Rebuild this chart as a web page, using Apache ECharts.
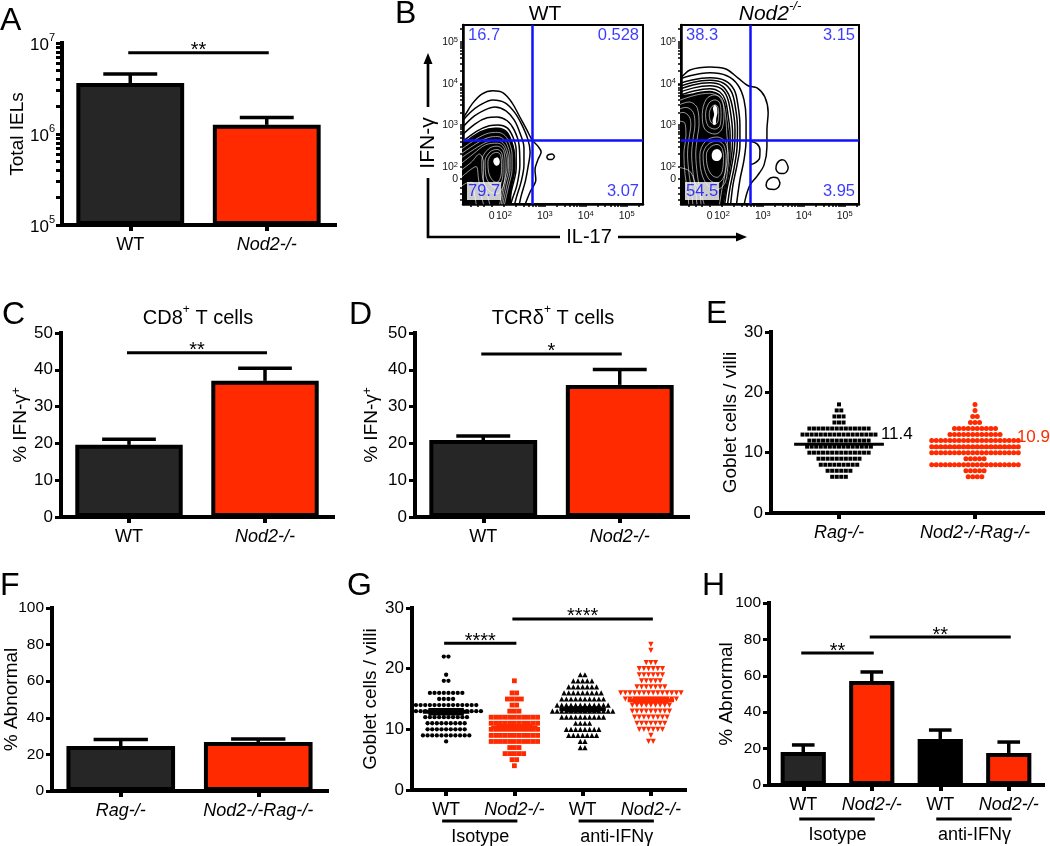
<!DOCTYPE html>
<html>
<head>
<meta charset="utf-8">
<script src="https://cdn.jsdelivr.net/npm/echarts@6.0.0/dist/echarts.min.js"></script>
<style>html,body{margin:0;padding:0;background:#fff;}#chart{width:1050px;height:846px;}</style>
</head>
<body>
<div id="chart"></div>
<script>
// ================= DATA =================
const aCats = ['WT', 'Nod2-/-'];
const aMeans = [3.63e6, 1.26e6];
const aErrTop = [4.57e6, 1.52e6];
const aSig = [[0, 1, 7.8e6, '**']];
const aLogTicks = [1e5, 1e6, 1e7];

const bGateX = 2.70;
const bGateY = 2.62;
const bWtQuad = ['16.7', '0.528', '79.7', '3.07'];
const bNodQuad = ['38.3', '3.15', '54.5', '3.95'];
const bTickLabels = [1.7, 2, 3, 4, 5];   // "0", 10^2 ... 10^5 (display units)
// contour levels (display units), outer levels drawn as lines
const bWtContours = [
  [[0.8,3.0],[1.0,3.17],[1.22,3.5],[1.46,3.74],[1.73,3.82],[1.98,3.77],[2.2,3.53],[2.39,3.19],[2.56,2.88],[2.69,2.64],[2.83,2.49],[2.91,2.35],[2.83,2.16],[2.76,1.92],[2.78,1.68],[2.64,1.39],[2.52,1.1],[2.39,0.84]],
  [[0.8,2.88],[1.17,3.29],[1.42,3.48],[1.73,3.6],[2.03,3.53],[2.27,3.29],[2.44,3.0],[2.59,2.64],[2.64,2.35],[2.59,1.99],[2.52,1.63],[2.42,1.29],[2.34,0.91]],
  [[0.8,2.73],[1.22,3.17],[1.54,3.36],[1.78,3.43],[2.05,3.34],[2.25,3.12],[2.39,2.81],[2.49,2.45],[2.49,2.04],[2.42,1.63],[2.3,1.24],[2.22,0.91]],
  [[0.8,2.59],[1.29,3.02],[1.59,3.17],[1.83,3.19],[2.08,3.1],[2.25,2.88],[2.37,2.52],[2.39,2.04],[2.32,1.56],[2.2,1.2],[2.12,0.91]],
  [[0.8,2.45],[1.34,2.85],[1.64,2.98],[1.86,3.0],[2.08,2.93],[2.22,2.71],[2.3,2.4],[2.3,1.97],[2.2,1.48],[2.05,0.91]],
  [[0.8,2.38],[1.3,2.76],[1.62,2.9],[1.86,2.92],[2.06,2.84],[2.18,2.62],[2.25,2.33],[2.25,1.96],[2.16,1.5],[2.0,0.91]],
  [[3.24,2.24],[3.18,2.3],[3.1,2.29],[3.05,2.23],[3.1,2.17],[3.18,2.17],[3.24,2.24]]
];
const bWtDense = [[0.8,2.42],[1.2,2.68],[1.5,2.86],[1.8,2.93],[2.05,2.84],[2.19,2.63],[2.27,2.3],[2.28,1.92],[2.2,1.5],[2.08,0.9],[0.8,0.9]];
const bWtInner = [
  [[0.8,2.3],[1.32,2.66],[1.62,2.8],[1.85,2.82],[2.03,2.74],[2.14,2.54],[2.2,2.28],[2.2,1.94],[2.12,1.55],[1.97,0.91]],
  [[0.8,2.2],[1.34,2.56],[1.63,2.7],[1.85,2.72],[2.0,2.65],[2.1,2.47],[2.15,2.24],[2.15,1.93],[2.08,1.58],[1.93,0.91]],
  [[0.8,2.1],[1.36,2.47],[1.64,2.61],[1.84,2.63],[1.98,2.56],[2.07,2.4],[2.11,2.2],[2.11,1.93],[2.04,1.62],[1.9,0.91]],
  [[0.8,1.95],[1.25,2.3],[1.55,2.52],[1.84,2.56],[1.97,2.5],[2.04,2.35],[2.08,2.15],[2.07,1.9],[2.0,1.6],[1.86,0.91]],
  [[0.8,1.8],[1.2,2.1],[1.4,2.3],[1.5,2.1],[1.5,1.7],[1.6,1.3],[1.7,0.91]],
  [[0.8,1.6],[1.15,1.9],[1.32,2.0],[1.38,1.7],[1.45,1.3],[1.55,0.91]],
  [[0.8,1.4],[1.08,1.6],[1.22,1.62],[1.28,1.35],[1.35,0.91]],
  [[2.03,2.12],[1.98,2.4],[1.83,2.49],[1.62,2.42],[1.46,2.14],[1.48,1.72],[1.63,1.42],[1.83,1.35],[1.98,1.52],[2.03,1.85],[2.03,2.12]],
  [[1.98,2.12],[1.94,2.34],[1.83,2.41],[1.66,2.35],[1.54,2.13],[1.56,1.78],[1.69,1.54],[1.83,1.49],[1.94,1.63],[1.98,1.88],[1.98,2.12]],
  [[1.94,2.12],[1.91,2.29],[1.83,2.34],[1.7,2.29],[1.61,2.12],[1.63,1.85],[1.73,1.66],[1.83,1.62],[1.91,1.72],[1.94,1.92],[1.94,2.12]]
];
const bWtCore = [[[1.9,2.12],[1.87,2.2],[1.82,2.22],[1.76,2.19],[1.74,2.12],[1.77,2.05],[1.82,2.02],[1.88,2.05]]];

const bNodContours = [
  [[0.78,4.08],[1.0,4.15],[1.22,4.32],[1.71,4.39],[2.08,4.35],[2.39,4.13],[2.64,3.94],[2.86,3.89],[3.05,3.67],[3.13,3.29],[3.1,2.88],[3.1,2.47],[3.03,2.04],[2.86,1.77],[2.69,1.56],[2.59,1.29],[2.52,0.96]],
  [[0.78,4.03],[1.22,4.18],[1.71,4.25],[2.12,4.18],[2.39,3.96],[2.54,3.6],[2.59,3.12],[2.59,2.64],[2.54,2.16],[2.44,1.68],[2.34,0.96]],
  [[0.78,3.94],[1.27,4.08],[1.71,4.13],[2.08,4.06],[2.3,3.84],[2.39,3.48],[2.44,3.0],[2.44,2.52],[2.37,2.04],[2.27,1.56],[2.2,0.96]],
  [[0.78,3.86],[1.28,4.02],[1.71,4.07],[2.04,4.0],[2.24,3.78],[2.33,3.42],[2.38,2.94],[2.37,2.46],[2.3,1.98],[2.2,1.5],[2.12,0.96]],
  [[0.78,3.79],[1.29,3.96],[1.71,4.01],[2.0,3.94],[2.17,3.72],[2.27,3.36],[2.32,2.88],[2.3,2.4],[2.22,1.92],[2.12,1.44],[2.05,0.96]],
  [[0.78,3.72],[1.31,3.89],[1.71,3.94],[1.98,3.87],[2.13,3.66],[2.21,3.3],[2.26,2.82],[2.25,2.4],[2.18,1.91],[2.09,1.42],[2.01,0.96]],
  [[0.78,3.65],[1.34,3.82],[1.71,3.87],[1.95,3.79],[2.08,3.6],[2.15,3.24],[2.2,2.76],[2.2,2.4],[2.15,1.9],[2.06,1.4],[1.97,0.96]],
  [[2.7,2.6],[2.85,2.55],[2.93,2.4],[2.92,2.2],[2.8,2.08],[2.7,2.05]],
  [[3.62,1.99],[3.55,2.13],[3.47,2.16],[3.35,2.08],[3.32,1.95],[3.4,1.84],[3.52,1.83],[3.6,1.9],[3.62,1.99]],
  [[3.42,1.6],[3.36,1.72],[3.25,1.74],[3.12,1.67],[3.08,1.55],[3.15,1.46],[3.28,1.45],[3.38,1.5],[3.42,1.6]]
];
const bNodDense = [[0.78,3.58],[1.3,3.76],[1.7,3.82],[1.94,3.74],[2.08,3.52],[2.14,3.12],[2.18,2.76],[2.19,2.4],[2.14,1.9],[2.05,1.4],[1.96,0.9],[0.78,0.9]];
const bNodInner = [
  [[0.78,3.52],[1.3,3.7],[1.7,3.76],[1.92,3.68],[2.04,3.48],[2.1,3.1],[2.12,2.78],[2.14,2.5],[2.1,1.95],[2.0,1.45],[1.92,0.96]],
  [[0.78,3.4],[1.2,3.55],[1.4,3.4],[1.44,3.0],[1.4,2.7],[1.36,2.3],[1.4,1.8],[1.46,1.4],[1.5,0.96]],
  [[0.78,3.3],[1.12,3.42],[1.3,3.3],[1.34,3.0],[1.3,2.7],[1.26,2.3],[1.3,1.8],[1.36,1.4],[1.4,0.96]],
  [[0.78,3.2],[1.05,3.3],[1.2,3.2],[1.24,3.0],[1.2,2.7],[1.16,2.3],[1.2,1.8],[1.26,1.4],[1.3,0.96]],
  [[0.78,3.1],[1.08,3.06],[1.12,2.75],[1.07,2.3],[1.1,1.8],[1.16,1.4],[1.2,0.96]],
  [[2.05,3.25],[2.0,3.62],[1.83,3.72],[1.62,3.62],[1.52,3.25],[1.58,2.9],[1.83,2.78],[2.0,2.9],[2.05,3.25]],
  [[1.98,3.25],[1.95,3.52],[1.83,3.6],[1.68,3.52],[1.6,3.25],[1.66,2.98],[1.83,2.9],[1.95,2.98],[1.98,3.25]],
  [[1.92,3.25],[1.9,3.43],[1.83,3.48],[1.74,3.42],[1.69,3.25],[1.73,3.07],[1.83,3.01],[1.9,3.08],[1.92,3.25]],
  [[2.16,2.28],[2.08,2.6],[1.88,2.71],[1.6,2.61],[1.46,2.28],[1.5,1.85],[1.65,1.55],[1.88,1.45],[2.07,1.6],[2.14,1.95],[2.16,2.28]],
  [[2.1,2.28],[2.04,2.52],[1.88,2.61],[1.66,2.53],[1.54,2.28],[1.58,1.92],[1.7,1.68],[1.88,1.6],[2.03,1.72],[2.09,1.98],[2.1,2.28]],
  [[2.04,2.28],[1.99,2.46],[1.88,2.53],[1.71,2.46],[1.62,2.28],[1.65,1.99],[1.75,1.8],[1.88,1.74],[1.99,1.84],[2.03,2.03],[2.04,2.28]],
  [[0.78,2.0],[1.2,1.9],[1.35,1.6],[1.5,1.3],[1.6,0.96]]
];
const bNodCore = [
  [[2.0,2.28],[1.96,2.38],[1.88,2.42],[1.79,2.38],[1.75,2.28],[1.78,2.17],[1.88,2.13],[1.96,2.17]],
  [[1.89,3.3],[1.87,3.44],[1.82,3.48],[1.78,3.4],[1.81,3.25],[1.77,3.1],[1.8,3.0],[1.85,3.02],[1.86,3.15]]
];

const cCats = ['WT', 'Nod2-/-'];
const cMeans = [19.6, 37.0];
const cErrTop = [21.1, 40.4];
const cSig = [[0, 1, 44.6, '**']];

const dCats = ['WT', 'Nod2-/-'];
const dMeans = [20.9, 35.9];
const dErrTop = [22.0, 40.1];
const dSig = [[0, 1, 44.3, '*']];

const eCats = ['Rag-/-', 'Nod2-/-Rag-/-'];
// [goblet cells per villus, number of villi]
const eRagCounts = [[18,1],[17,2],[16,3],[15,3],[14,14],[13,17],[12,14],[11,15],[10,14],[9,10],[8,9],[7,6],[6,4]];
const eNodRagCounts = [[18,1],[17,1],[16,2],[15,3],[14,10],[13,12],[12,20],[11,20],[10,20],[9,5],[8,20],[7,5],[6,4]];
const eMeans = [11.4, 10.9];

const fCats = ['Rag-/-', 'Nod2-/-Rag-/-'];
const fMeans = [24.6, 26.8];
const fErrTop = [28.1, 28.4];

const gCats = ['WT', 'Nod2-/-', 'WT', 'Nod2-/-'];
const gGroups = [[0, 1, 'Isotype'], [2, 3, 'anti-IFNγ']];
const gWtIso = [[22,2],[19,1],[18,2],[16,8],[15,4],[14,14],[13,16],[12,10],[11,9],[10,9],[9,11],[8,1]];
const gNodIso = [[18,1],[16,2],[15,4],[14,2],[13,3],[12,11],[11,11],[10,11],[9,11],[8,11],[7,3],[6,5],[5,2],[4,1]];
const gWtAnti = [[19,2],[18,5],[17,7],[16,9],[15,10],[14,12],[13,14],[12,10],[11,4],[10,8],[9,7],[8,2],[7,2]];
const gNodAnti = [[24,1],[23,1],[21,3],[20,6],[19,6],[18,5],[17,7],[16,14],[15,12],[14,9],[13,9],[12,8],[11,7],[10,6],[9,1],[8,2]];
const gMeans = [12.9, 10.3, 13.3, 14.8];
const gSem = [0.4, 0.35, 0.3, 0.35];
const gSig = [[0, 1, 24.2, '****'], [1, 3, 28.2, '****']];

const hCats = ['WT', 'Nod2-/-', 'WT', 'Nod2-/-'];
const hGroups = [[0, 1, 'Isotype'], [2, 3, 'anti-IFNγ']];
const hMeans = [18.1, 57.1, 25.3, 17.6];
const hErrTop = [22.0, 62.1, 30.2, 23.6];
const hSig = [[0, 1, 72.5, '**'], [1, 3, 81.3, '**']];

// ================= STYLE / BUILD =================
const FONT = '"Liberation Sans", Arial, Helvetica, sans-serif';
const RED = '#ff2a00', DARK = '#262626', BLACK = '#000000', BLUE = '#0a0aff';

const grid = [], xAxis = [], yAxis = [], series = [], graphic = [];
const AX_LINE = {show: true, onZero: false, lineStyle: {color: '#000', width: 4, cap: 'square'}};
const Y_TICK = {show: true, length: 6, lineStyle: {color: '#000', width: 3}};
const X_TICK = {show: true, length: 6, alignWithLabel: true, lineStyle: {color: '#000', width: 4}};
const CAT_SIZE = 18, NAME_SIZE = 19;

function supRich(base, sup) {
  return {
    b: {fontSize: base, fontFamily: FONT, color: '#000', lineHeight: base + 4, verticalAlign: 'bottom'},
    s: {fontSize: sup, fontFamily: FONT, color: '#000', lineHeight: sup, verticalAlign: 'top'}
  };
}

function addGrid(r, extra) {
  grid.push(Object.assign({left: r[0], top: r[1], width: r[2], height: r[3], containLabel: false, outerBoundsMode: 'none'}, extra || {}));
  return grid.length - 1;
}

function yName(name, gap) {
  return {name: name, nameLocation: 'middle', nameRotate: 90, nameGap: gap, nameMoveOverlap: false,
    nameTextStyle: {fontSize: NAME_SIZE, fontFamily: FONT, color: '#000', rich: {s: {fontSize: 12, fontFamily: FONT, color: '#000', verticalAlign: 'top', lineHeight: 8}}}};
}

function errRender(barFrac) {
  return function (params, api) {
    const x = api.value(0);
    const p0 = api.coord([x, api.value(1)]);
    const p1 = api.coord([x, api.value(2)]);
    const band = api.size([1, 0])[0];
    const hw = band * barFrac * 0.25;
    return {type: 'group', children: [
      {type: 'line', shape: {x1: p0[0], y1: p0[1], x2: p1[0], y2: p1[1]}, style: {stroke: '#000', lineWidth: 3.5}},
      {type: 'line', shape: {x1: p1[0] - hw, y1: p1[1], x2: p1[0] + hw, y2: p1[1]}, style: {stroke: '#000', lineWidth: 3.5}}
    ]};
  };
}

function sigSeries(i, sig) {
  return {type: 'custom', xAxisIndex: i, yAxisIndex: i, z: 4, clip: false, silent: true,
    data: sig.map(s => [s[0], s[1], s[2]]), encode: {x: [0, 1], y: 2},
    renderItem: function (params, api) {
      const a = api.coord([api.value(0), api.value(2)]);
      const b = api.coord([api.value(1), api.value(2)]);
      return {type: 'group', children: [
        {type: 'line', shape: {x1: a[0] - 2, y1: a[1], x2: b[0] + 2, y2: b[1]}, style: {stroke: '#000', lineWidth: 3}},
        {type: 'text', x: (a[0] + b[0]) / 2, y: a[1] - 2, style: {text: sig[params.dataIndex][3], fontSize: 20, fontFamily: FONT, fill: '#000', align: 'center', verticalAlign: 'middle'}}
      ]};
    }};
}

function groupSeries(i, groups, dy) {
  return {type: 'custom', xAxisIndex: i, yAxisIndex: i, z: 4, clip: false, silent: true,
    data: groups.map(g => [g[0], g[1], 0]), encode: {x: [0, 1], y: 2},
    renderItem: function (params, api) {
      const a = api.coord([api.value(0), 0]);
      const b = api.coord([api.value(1), 0]);
      const y = a[1] + dy;
      return {type: 'group', children: [
        {type: 'line', shape: {x1: a[0] - 4, y1: y, x2: b[0] + 3, y2: y}, style: {stroke: '#000', lineWidth: 3}},
        {type: 'text', x: (a[0] + b[0]) / 2, y: y + 16, style: {text: groups[params.dataIndex][2], fontSize: 18, fontFamily: FONT, fill: '#000', align: 'center', verticalAlign: 'middle'}}
      ]};
    }};
}

function catAxis(i, cats) {
  return {type: 'category', gridIndex: i, boundaryGap: true,
    data: cats.map(c => ({value: c, textStyle: {fontStyle: c === 'WT' ? 'normal' : 'italic'}})),
    axisLine: AX_LINE, axisTick: X_TICK,
    axisLabel: {interval: 0, fontSize: CAT_SIZE, fontFamily: FONT, color: '#000', margin: 11},
    splitLine: {show: false}};
}

function barPanel(rect, cats, means, errTop, colors, barFrac, yCfg, sig) {
  const i = addGrid(rect);
  xAxis.push(catAxis(i, cats));
  yAxis.push(Object.assign({gridIndex: i, axisLine: AX_LINE, axisTick: Y_TICK, splitLine: {show: false}}, yCfg));
  series.push({type: 'bar', xAxisIndex: i, yAxisIndex: i, barWidth: Math.round(barFrac * 100) + '%', clip: true, z: 2, silent: true,
    itemStyle: {borderColor: '#000', borderWidth: 4},
    data: means.map((v, k) => ({value: v, itemStyle: {color: colors[k]}}))});
  series.push({type: 'custom', xAxisIndex: i, yAxisIndex: i, z: 3, clip: false, silent: true,
    data: means.map((m, k) => [k, m, errTop[k]]), encode: {x: 0, y: [1, 2]}, renderItem: errRender(barFrac)});
  if (sig) series.push(sigSeries(i, sig));
  return i;
}

function scatterAxes(rect, cats, yCfg) {
  const i = addGrid(rect);
  const idx = cats.map((c, k) => k);
  xAxis.push({type: 'value', gridIndex: i, min: -0.5, max: cats.length - 0.5,
    axisLine: AX_LINE, axisTick: {show: true, length: 6, lineStyle: {color: '#000', width: 4}, customValues: idx},
    axisLabel: {customValues: idx, margin: 11, fontSize: CAT_SIZE, fontFamily: FONT, color: '#000',
      formatter: v => { const c = cats[Math.round(v)]; return c === 'WT' ? c : '{i|' + c + '}'; },
      rich: {i: {fontSize: CAT_SIZE, fontFamily: FONT, color: '#000', fontStyle: 'italic'}}},
    splitLine: {show: false}});
  yAxis.push(Object.assign({gridIndex: i, axisLine: AX_LINE, axisTick: Y_TICK, splitLine: {show: false}}, yCfg));
  return i;
}

function swarmSeries(i, counts, ci, pitch, symbol, size, color, rot) {
  const pts = [];
  counts.forEach(([v, n]) => { for (let k = 0; k < n; k++) pts.push([ci + (k - (n - 1) / 2) * pitch, v]); });
  return {type: 'scatter', xAxisIndex: i, yAxisIndex: i, symbol: symbol, symbolSize: size, symbolRotate: rot || 0,
    itemStyle: {color: color, opacity: 1}, data: pts, z: 2, silent: true};
}

const numLabel = {fontSize: 17, fontFamily: FONT, color: '#000', margin: 8};

// ---------- Panel A ----------
const aMinorTicks = [];
[1e5, 1e6].forEach(d => { for (let m = 1; m <= 9; m++) aMinorTicks.push(m * d); });
aMinorTicks.push(1e7);
barPanel([62, 43, 273, 182], aCats, aMeans, aErrTop, [DARK, RED], 0.79,
  Object.assign({type: 'log', logBase: 10, min: 1e5, max: 1e7, startValue: 1e5,
    axisTick: Object.assign({}, Y_TICK, {customValues: aMinorTicks}),
    axisLabel: {customValues: aLogTicks, margin: 7, formatter: v => '{b|10}{s|' + Math.round(Math.log10(v)) + '}', rich: supRich(17, 11)}},
    yName('Total IELs', 35)), aSig);

// ---------- Panel B (flow plots) ----------
const bTicks = [1.2, 1.35, 1.5, 1.7];
[2, 3, 4].forEach(k => { for (let m = 1; m <= 9; m++) bTicks.push(k + Math.log10(m)); });
bTicks.push(5, 5 + Math.log10(2));
const bFmt = v => Math.abs(v - 1.7) < 0.01 ? '{b|0}' : '{b|10}{s|' + Math.round(v) + '}';
const bRich = {
  b: {fontSize: 10.5, fontFamily: FONT, color: '#111', lineHeight: 12, verticalAlign: 'bottom'},
  s: {fontSize: 7.5, fontFamily: FONT, color: '#111', lineHeight: 7, verticalAlign: 'top'}
};
function polySeries(i, polys, fill, z) {
  return {type: 'custom', xAxisIndex: i, yAxisIndex: i, z: z, clip: true, silent: true,
    data: polys.map((p, k) => [k]), encode: {x: -1, y: -1},
    renderItem: function (params, api) {
      const pts = polys[params.dataIndex].map(p => api.coord(p));
      const cs = params.coordSys;
      return {type: 'polygon', shape: {points: pts, smooth: 0.3}, style: {fill: fill},
        clipPath: {type: 'rect', shape: {x: cs.x, y: cs.y, width: cs.width, height: cs.height}}};
    }};
}
function lineSet(i, lines, color, width, z) {
  lines.forEach(c => series.push({type: 'line', xAxisIndex: i, yAxisIndex: i, data: c, smooth: 0.35,
    showSymbol: false, symbol: 'none', lineStyle: {color: color, width: width}, clip: true, silent: true, z: z}));
}
function flowPanel(rect, xmax, contours, dense, inner, core, quad) {
  const i = addGrid(rect, {show: true, borderColor: '#000', borderWidth: 2, backgroundColor: '#fff'});
  const ax = {show: true, onZero: false, lineStyle: {color: '#000', width: 2.5}};
  xAxis.push({type: 'value', gridIndex: i, min: 1, max: xmax, axisLine: ax,
    axisTick: {show: true, length: 3, lineStyle: {color: '#000', width: 1.5}, customValues: bTicks.filter(t => t <= xmax)},
    axisLabel: {customValues: bTickLabels, formatter: bFmt, rich: bRich, margin: 6}, splitLine: {show: false}});
  yAxis.push({type: 'value', gridIndex: i, min: 1.1, max: 5.4, axisLine: ax,
    axisTick: {show: true, length: 3, lineStyle: {color: '#000', width: 1.5}, customValues: bTicks.filter(t => t >= 1.1)},
    axisLabel: {customValues: bTickLabels, formatter: bFmt, rich: bRich, margin: 5}, splitLine: {show: false}});
  lineSet(i, contours, '#000', 1.5, 2);
  series.push(polySeries(i, [dense], '#000', 3));
  lineSet(i, inner, '#ffffff', 0.6, 4);
  series.push(polySeries(i, core, '#ffffff', 5));
  const corners = [
    [1, 5.4, 'left', 'top', [4, 1]], [xmax, 5.4, 'right', 'top', [-3, 1]],
    [1, 1.1, 'left', 'bottom', [4, -4]], [xmax, 1.1, 'right', 'bottom', [-3, -4]]];
  series.push({type: 'scatter', xAxisIndex: i, yAxisIndex: i, symbolSize: 0, z: 6, silent: true, clip: false,
    data: corners.map((c, k) => ({value: [c[0], c[1]], label: {show: true, position: c[4], align: c[2], verticalAlign: c[3],
      formatter: quad[k], color: BLUE, fontSize: 16.5, fontFamily: FONT, backgroundColor: '#fff', padding: [1, 1, 0, 1]}})),
    markLine: {silent: true, symbol: 'none', animation: false, label: {show: false},
      lineStyle: {color: '#1010ff', width: 2.5, type: 'solid'}, data: [{xAxis: bGateX}, {yAxis: bGateY}]}});
}
flowPanel([463, 25, 180, 179], 5.4, bWtContours, bWtDense, bWtInner, bWtCore, bWtQuad);
flowPanel([681, 25, 178, 179], 5.35, bNodContours, bNodDense, bNodInner, bNodCore, bNodQuad);

// ---------- Panels C, D ----------
const pctY = {type: 'value', min: 0, max: 50, interval: 10, axisLabel: numLabel};
barPanel([61, 333, 272, 184], cCats, cMeans, cErrTop, [DARK, RED], 0.79,
  Object.assign({}, pctY, yName('% IFN-γ{s|+}', 31)), cSig);
barPanel([415, 333, 273, 184], dCats, dMeans, dErrTop, [DARK, RED], 0.79,
  Object.assign({}, pctY, yName('% IFN-γ{s|+}', 34)), dSig);

// ---------- Panel E ----------
const eI = scatterAxes([771, 332, 272, 181], eCats,
  Object.assign({type: 'value', min: 0, max: 30, interval: 10, axisLabel: numLabel}, yName('Goblet cells / villi', 31)));
series.push(swarmSeries(eI, eRagCounts, 0, 0.0335, 'rect', 4, BLACK));
series.push(swarmSeries(eI, eNodRagCounts, 1, 0.0335, 'circle', 5, RED));
const eColors = [BLACK, RED];
series.push({type: 'custom', xAxisIndex: eI, yAxisIndex: eI, z: 4, clip: false, silent: true,
  data: eMeans.map((m, k) => [k, m]), encode: {x: 0, y: 1},
  renderItem: function (params, api) {
    const ci = api.value(0), m = api.value(1), col = eColors[params.dataIndex];
    const a = api.coord([ci - 0.33, m]), b = api.coord([ci + 0.33, m]);
    return {type: 'group', children: [
      {type: 'line', shape: {x1: a[0], y1: a[1], x2: b[0], y2: b[1]}, style: {stroke: col, lineWidth: 3}},
      {type: 'text', x: b[0] - 3, y: a[1] - 1, style: {text: m.toFixed(1), fill: col, fontSize: 17, fontFamily: FONT, align: 'left', verticalAlign: 'bottom'}}
    ]};
  }});

// ---------- Panel F ----------
const abnY = {type: 'value', min: 0, max: 100, interval: 20, axisLabel: Object.assign({}, numLabel, {fontSize: 15.5})};
barPanel([52, 608, 275, 183], fCats, fMeans, fErrTop, [DARK, RED], 0.79,
  Object.assign({}, abnY, yName('% Abnormal', 31)), null);

// ---------- Panel G ----------
const gI = scatterAxes([412, 608, 273, 182], gCats,
  Object.assign({type: 'value', min: 0, max: 30, interval: 10, axisLabel: numLabel}, yName('Goblet cells / villi', 32)));
const gColors = [BLACK, RED, BLACK, RED];
series.push(swarmSeries(gI, gWtIso, 0, 0.068, 'circle', 4.3, BLACK));
series.push(swarmSeries(gI, gNodIso, 1, 0.068, 'rect', 4.8, RED));
series.push(swarmSeries(gI, gWtAnti, 2, 0.068, 'triangle', 5.2, BLACK));
series.push(swarmSeries(gI, gNodAnti, 3, 0.068, 'triangle', 5.2, RED, 180));
series.push({type: 'custom', xAxisIndex: gI, yAxisIndex: gI, z: 4, clip: false, silent: true,
  data: gMeans.map((m, k) => [k, m, gSem[k]]), encode: {x: 0, y: 1},
  renderItem: function (params, api) {
    const ci = api.value(0), m = api.value(1), s = api.value(2), col = gColors[params.dataIndex];
    const a = api.coord([ci - 0.34, m]), b = api.coord([ci + 0.34, m]);
    const t1 = api.coord([ci - 0.26, m + s]), t2 = api.coord([ci + 0.26, m + s]);
    const u1 = api.coord([ci - 0.26, m - s]), u2 = api.coord([ci + 0.26, m - s]);
    return {type: 'group', children: [
      {type: 'line', shape: {x1: a[0], y1: a[1], x2: b[0], y2: b[1]}, style: {stroke: col, lineWidth: 4}},
      {type: 'line', shape: {x1: (t1[0] + t2[0]) / 2, y1: t1[1], x2: (u1[0] + u2[0]) / 2, y2: u1[1]}, style: {stroke: col, lineWidth: 2.5}},
      {type: 'line', shape: {x1: t1[0], y1: t1[1], x2: t2[0], y2: t2[1]}, style: {stroke: col, lineWidth: 2.5}},
      {type: 'line', shape: {x1: u1[0], y1: u1[1], x2: u2[0], y2: u2[1]}, style: {stroke: col, lineWidth: 2.5}}
    ]};
  }});
series.push(sigSeries(gI, gSig));
series.push(groupSeries(gI, gGroups, 31));

// ---------- Panel H ----------
const hI = barPanel([769, 603, 274, 182], hCats, hMeans, hErrTop, [DARK, RED, BLACK, RED], 0.66,
  Object.assign({}, abnY, yName('% Abnormal', 33)), hSig);
series.push(groupSeries(hI, hGroups, 34));

// ---------- Text annotations (panel letters, titles, flow axis arrows) ----------
function txt(x, y, text, size, extra) {
  graphic.push({type: 'text', x: x, y: y, silent: true, rotation: (extra && extra.rotation) || 0,
    style: Object.assign({text: text, fontSize: size, fontFamily: FONT, fill: '#000', align: 'left', verticalAlign: 'middle'}, (extra && extra.style) || {})});
}
[['A', 0, 21], ['B', 395, 14], ['C', 2, 315], ['D', 349, 315], ['E', 706, 314], ['F', 0, 586], ['G', 347, 586], ['H', 702, 586]]
  .forEach(l => txt(l[1], l[2], l[0], 32));
function titleRich(sz) {
  const s = Math.round(sz * 0.6);
  return {
    n: {fontSize: sz, fontFamily: FONT, fill: '#000', lineHeight: sz + 4, verticalAlign: 'bottom'},
    s: {fontSize: s, fontFamily: FONT, fill: '#000', lineHeight: s, verticalAlign: 'top'},
    ni: {fontSize: sz, fontFamily: FONT, fill: '#000', lineHeight: sz + 4, verticalAlign: 'bottom', fontStyle: 'italic'},
    si: {fontSize: s, fontFamily: FONT, fill: '#000', lineHeight: s, verticalAlign: 'top', fontStyle: 'italic'}
  };
}
txt(198, 316, '{n|CD8}{s|+}{n| T cells}', 20, {style: {align: 'center', rich: titleRich(20)}});
txt(553, 316, '{n|TCRδ}{s|+}{n| T cells}', 20, {style: {align: 'center', rich: titleRich(20)}});
txt(545, 12, '{n|WT}', 21, {style: {align: 'center', rich: titleRich(21)}});
txt(770, 12, '{ni|Nod2}{si|-/-}', 21, {style: {align: 'center', rich: titleRich(21)}});
txt(428, 143, 'IFN-γ', 21, {rotation: Math.PI / 2, style: {align: 'center'}});
txt(589, 237, 'IL-17', 20, {style: {align: 'center'}});
const arrowStyle = {stroke: '#000', lineWidth: 2.7};
graphic.push({type: 'line', silent: true, shape: {x1: 428, y1: 238, x2: 428, y2: 178}, style: arrowStyle});
graphic.push({type: 'line', silent: true, shape: {x1: 428, y1: 107, x2: 428, y2: 62}, style: arrowStyle});
graphic.push({type: 'polygon', silent: true, shape: {points: [[428, 53], [423.5, 64], [432.5, 64]]}, style: {fill: '#000'}});
graphic.push({type: 'line', silent: true, shape: {x1: 427, y1: 237, x2: 560, y2: 237}, style: arrowStyle});
graphic.push({type: 'line', silent: true, shape: {x1: 618, y1: 237, x2: 738, y2: 237}, style: arrowStyle});
graphic.push({type: 'polygon', silent: true, shape: {points: [[747, 237], [736, 232.5], [736, 241.5]]}, style: {fill: '#000'}});

const chart = echarts.init(document.getElementById('chart'), null, {renderer: 'canvas'});
chart.setOption({animation: false, backgroundColor: '#ffffff', grid: grid, xAxis: xAxis, yAxis: yAxis, series: series, graphic: graphic});
</script>
</body>
</html>
